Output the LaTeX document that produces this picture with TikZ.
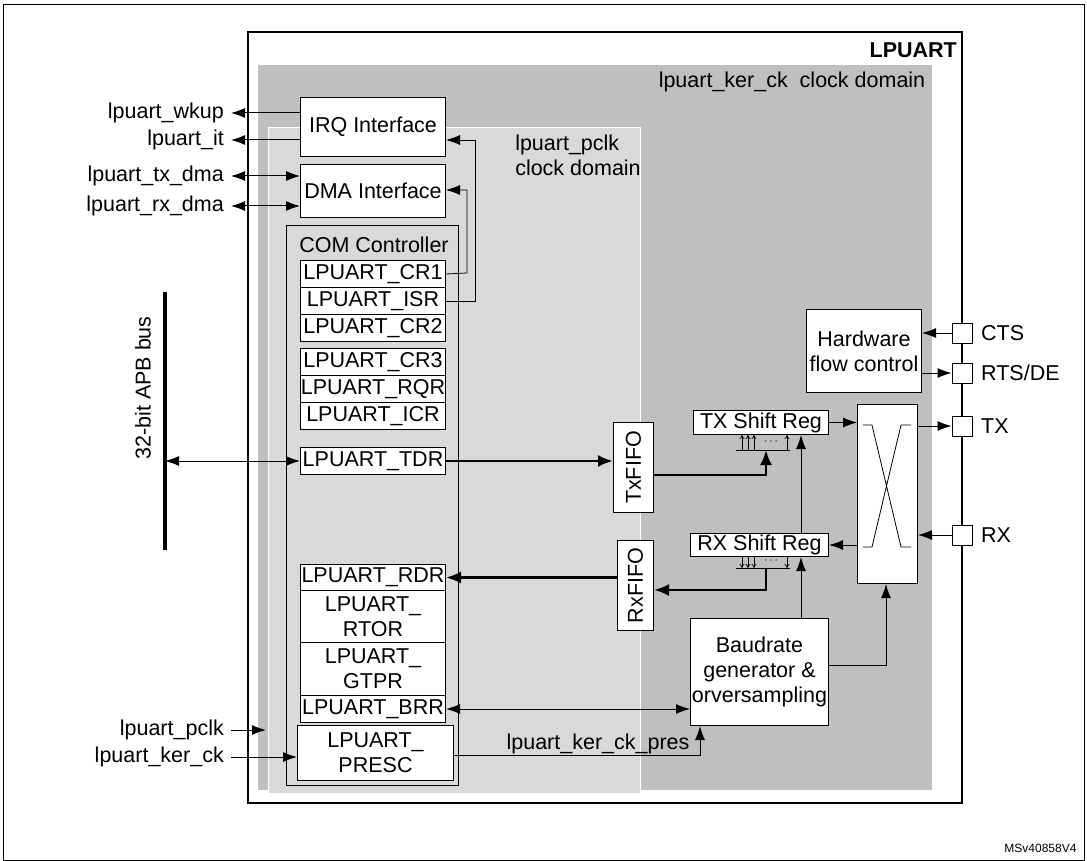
\documentclass[tikz,border=0pt]{standalone}
\usepackage{fontspec}
\setmainfont{Liberation Sans}
\usetikzlibrary{arrows.meta}
\definecolor{kerdom}{RGB}{191,191,191}
\definecolor{pclkdom}{RGB}{217,217,217}
\begin{document}
\begin{tikzpicture}[x=1pt,y=-1pt,
    box/.style={draw,line width=1pt,fill=white,anchor=north west,inner sep=0pt,align=center,font=\fontsize{21.5}{25}\selectfont},
    reg/.style={box,minimum width=145pt},
    pin/.style={draw,line width=1pt,fill=white,minimum size=20pt,inner sep=0pt},
    lbl/.style={font=\fontsize{21.5}{25}\selectfont,inner sep=1pt},
    ext/.style={lbl,anchor=east,inner sep=7pt},
    dots/.style={inner sep=0pt,font=\large,text height=2pt,text depth=0pt},
    sig/.style={line width=1pt,-{Latex[length=14pt,width=10pt]}},
    dsig/.style={line width=1pt,{Latex[length=14pt,width=10pt]}-{Latex[length=14pt,width=10pt]}},
    bus/.style={line width=2.6pt,-{Latex[length=15pt,width=12pt]}},
    tap/.style={line width=0.7pt,-{To[length=4pt,width=5pt]}}]
    \useasboundingbox (0,0) rectangle (1087,861);
    \draw[line width=1pt] (3,5) rectangle (1084,860);

    % domains
    \draw[line width=1.4pt,fill=white] (248,32) rectangle (962,803);
    \fill[kerdom] (258,65) rectangle (932,790);
    \filldraw[pclkdom,draw=white,line width=1pt] (268,128) rectangle (640,793);
    \node[lbl,font=\fontsize{21.5}{25}\selectfont\bfseries,anchor=east] (title) at (958,50) {LPUART};
    \node[lbl] (kerlbl) at (792,82) {lpuart\_ker\_ck\ \ clock domain};
    \node[lbl,align=left] (pclklbl) at (578,155) {lpuart\_pclk\\clock domain};

    % interfaces
    \node[box,minimum width=145pt,minimum height=59pt] (irq) at (300,97) {IRQ Interface};
    \node[box,minimum width=145pt,minimum height=53pt] (dma) at (300,164) {DMA Interface};

    % COM controller and registers
    \node[box,minimum width=172pt,minimum height=560pt,fill=none] (com) at (286,225) {};
    \node[lbl] (comlbl) at (374,245) {COM Controller};
    \node[reg,minimum height=27pt] (cr1) at (300,260) {LPUART\_CR1};
    \node[reg,minimum height=27pt] (isr) at (300,287) {LPUART\_ISR};
    \node[reg,minimum height=27pt] (cr2) at (300,314) {LPUART\_CR2};
    \node[reg,minimum height=27pt] (cr3) at (300,348) {LPUART\_CR3};
    \node[reg,minimum height=27pt] (rqr) at (300,375) {LPUART\_RQR};
    \node[reg,minimum height=27pt] (icr) at (300,402) {LPUART\_ICR};
    \node[reg,minimum height=27pt] (tdr) at (300,447) {LPUART\_TDR};
    \node[reg,minimum height=26pt] (rdr) at (300,564) {LPUART\_RDR};
    \node[reg,minimum height=52pt] (rtor) at (300,590) {LPUART\_\\RTOR};
    \node[reg,minimum height=53pt] (gtpr) at (300,642) {LPUART\_\\GTPR};
    \node[reg,minimum height=27pt] (brr) at (300,695) {LPUART\_BRR};
    \node[box,minimum width=156pt,minimum height=55pt] (presc) at (297,725) {LPUART\_\\PRESC};

    % FIFOs, shift registers, kernel blocks
    \node[box,minimum width=40pt,minimum height=90pt] (txfifo) at (613,422) {};
    \node[lbl,rotate=90] at (txfifo.center) {TxFIFO};
    \node[box,minimum width=36pt,minimum height=90pt] (rxfifo) at (617,540) {};
    \node[lbl,rotate=90] at (rxfifo.center) {RxFIFO};
    \node[box,minimum width=135pt,minimum height=24pt] (txsr) at (693,410) {TX Shift Reg};
    \node[box,minimum width=138pt,minimum height=23pt] (rxsr) at (690,533) {RX Shift Reg};
    \node[box,minimum width=115pt,minimum height=83pt] (hwfc) at (806,309) {Hardware\\flow control};
    \node[box,minimum width=138pt,minimum height=107pt] (baud) at (690,618) {Baudrate\\generator \&\\orversampling};
    \node[box,minimum width=60pt,minimum height=179pt] (xbar) at (857,404) {};
    \draw[line width=0.8pt] (863,425) -- (872,425) -- (901,547) -- (911,547)
        (911,425) -- (901,425) -- (872,547) -- (863,547);

    % pins
    \node[pin] (cts) at (962,333) {};
    \node[pin] (rts) at (962,373) {};
    \node[pin] (tx) at (962,426) {};
    \node[pin] (rx) at (962,535) {};
    \node[lbl,anchor=west] (ctslbl) at (980,333) {CTS};
    \node[lbl,anchor=west] (rtslbl) at (980,373) {RTS/DE};
    \node[lbl,anchor=west] (txlbl) at (980,426) {TX};
    \node[lbl,anchor=west] (rxlbl) at (980,535) {RX};

    % external signals
    \node[ext] (wkup) at (231,113) {lpuart\_wkup};
    \node[ext] (it) at (231,140) {lpuart\_it};
    \node[ext] (txdma) at (231,176) {lpuart\_tx\_dma};
    \node[ext] (rxdma) at (231,206) {lpuart\_rx\_dma};
    \node[ext] (pclk) at (231,730) {lpuart\_pclk};
    \node[ext] (kerck) at (231,757) {lpuart\_ker\_ck};
    \coordinate (pclkend) at (266,730);
    \draw[sig] (irq.west |- wkup) -- (wkup);
    \draw[sig] (irq.west |- it) -- (it);
    \draw[dsig] (txdma) -- (dma.west |- txdma);
    \draw[dsig] (rxdma) -- (dma.west |- rxdma);
    \draw[sig] (pclk) -- (pclkend);
    \draw[sig] (kerck) -- (presc.west |- kerck);

    % APB bus
    \coordinate (apbtop) at (165,292);
    \coordinate (apbbot) at (165,550);
    \draw[line width=4.5pt] (apbtop) -- (apbbot);
    \node[lbl,rotate=90] (apblbl) at (143,388) {32-bit APB bus};
    \draw[dsig] (apbtop |- tdr) -- (tdr.west);

    % internal connections
    \draw[sig,line width=0.8pt] (cr1.east) -- (467,273) -- (467,190) -- (dma.east |- 0,190);
    \draw[sig,line width=0.8pt] (isr.east) -- (475,301) -- (475,140) -- (irq.east |- it);
    \draw[bus] (tdr.east) -- (txfifo.west |- tdr.east);
    \draw[bus] (rxfifo.west |- rdr.east) -- (rdr.east);
    \draw[dsig] (brr.east) -- (baud.west |- brr.east);
    \draw[sig] (presc.east |- 0,755) -- (700,755) -- (700,0 |- baud.south);
    \node[lbl,anchor=south] (preslbl) at (598,755) {lpuart\_ker\_ck\_pres};

    % parallel taps
    \draw[line width=1pt] (736,450) -- (790,450) (736,568) -- (790,568);
    \foreach \x in {742,748,754,787} {
      \draw[tap] (\x,450) -- (\x,0 |- txsr.south);
      \draw[tap] (\x,0 |- rxsr.south) -- (\x,568);
    }
    \node[dots] (txdots) at (771,443) {$\cdots$};
    \node[dots] (rxdots) at (771,562) {$\cdots$};
    \draw[bus] (txfifo.east |- 0,475) -- (766,475) -- (766,450);
    \draw[bus] (766,568) -- (766,590) -- (rxfifo.east |- 0,590);

    \draw[sig] (801,0 |- baud.north) -- (801,0 |- rxsr.south);
    \draw[sig] (801,0 |- rxsr.north) -- (801,0 |- txsr.south);
    \draw[sig] (txsr.east) -- (xbar.west |- txsr.east);
    \draw[sig] (xbar.east |- tx) -- (tx.west);
    \draw[sig] (rx.west) -- (xbar.east |- rx);
    \draw[sig] (xbar.west |- 0,545) -- (rxsr.east |- 0,545);
    \draw[sig] (baud.east |- 0,665) -- (886,665) -- (886,0 |- xbar.south);
    \draw[sig] (cts.west) -- (hwfc.east |- cts);
    \draw[sig] (hwfc.east |- rts) -- (rts.west);

    \node[font=\fontsize{12}{14}\selectfont,anchor=east] (ref) at (1080,848) {MSv40858V4};
\end{tikzpicture}
\end{document}
